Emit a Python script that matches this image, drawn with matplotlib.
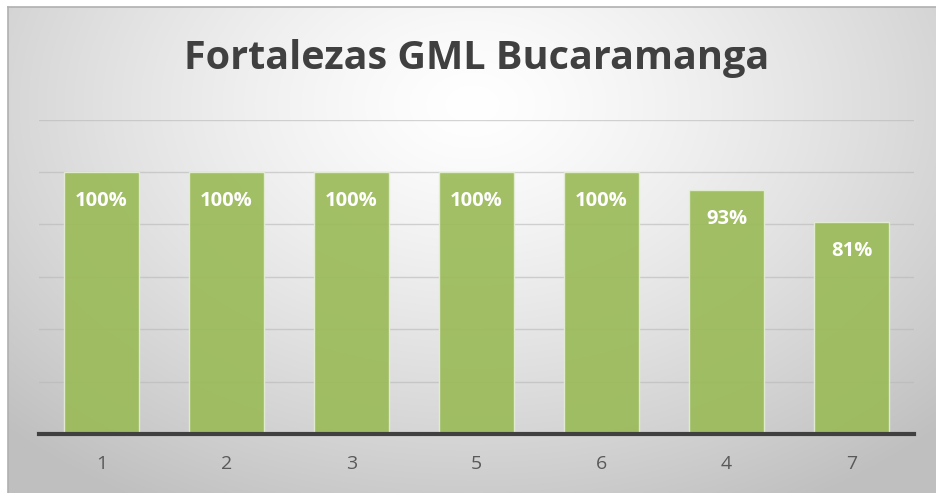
import matplotlib
matplotlib.use("Agg")
import matplotlib.pyplot as plt
import numpy as np

# chart data
categories = ["1", "2", "3", "5", "6", "4", "7"]
values = [100, 100, 100, 100, 100, 93, 81]
labels = ["100%", "100%", "100%", "100%", "100%", "93%", "81%"]
title = "Fortalezas GML Bucaramanga"

W, H = 937, 493
fig = plt.figure(figsize=(W / 100, H / 100), dpi=100)
fig.patch.set_facecolor("white")

# background panel with radial gradient (chart area from x=8, y=7)
bg = fig.add_axes([8 / W, 0, 1 - 8 / W, 1 - 7 / H])
bg.set_axis_off()
yy, xx = np.mgrid[0:1:300j, 0:1:600j]
r = np.sqrt(((xx - 0.5) / 0.75) ** 2 + ((yy - 0.2) / 1.0) ** 2)
r = np.clip(r / 0.95, 0, 1)
shade = 1.0 - 0.25 * r ** 1.3
img = np.dstack([shade, shade, shade])
bg.imshow(img, aspect="auto", extent=[0, 1, 1, 0], interpolation="bilinear")
bg.set_xlim(0, 1)
bg.set_ylim(1, 0)
# thin border lines top and left
fig.add_artist(plt.Line2D([8 / W, 1], [1 - 7 / H, 1 - 7 / H], color="#b0b0b0", lw=1.2))
fig.add_artist(plt.Line2D([8 / W, 8 / W], [0, 1 - 7 / H], color="#b0b0b0", lw=1.2))

# plot area
left, right = 39 / W, 914 / W
bottom, top = (H - 434) / H, (H - 119.5) / H
ax = fig.add_axes([left, bottom, right - left, top - bottom])
ax.patch.set_alpha(0)

x = np.arange(len(categories))
bars = ax.bar(x, values, width=0.6, color="#9bbb59", alpha=0.92,
              edgecolor="#e4eed4", linewidth=1.0, zorder=3)
for b, lab in zip(bars, labels):
    ax.text(b.get_x() + b.get_width() / 2, b.get_height() - 11, lab,
            ha="center", va="center", color="white", fontsize=14.5,
            fontweight="bold", family="Open Sans", zorder=4)

ax.set_xlim(-0.5, len(categories) - 0.5)
ax.set_ylim(0, 120)
ax.set_yticks([20, 40, 60, 80, 100, 120])
ax.yaxis.grid(True, color="#b8b8b8", lw=1.0, alpha=0.6, zorder=0)
ax.tick_params(axis="y", length=0, labelleft=False)
ax.set_xticks(x)
ax.set_xticklabels(categories, fontsize=14, color="#595959", family="Open Sans")
ax.tick_params(axis="x", length=0, pad=15)
for s in ["top", "right", "left"]:
    ax.spines[s].set_visible(False)
ax.spines["bottom"].set_color("#404040")
ax.spines["bottom"].set_linewidth(3)
ax.spines["bottom"].set_zorder(5)

fig.text(477 / W, 1 - 59 / H, title, ha="center", va="center",
         fontsize=28.5, fontweight="bold", color="#404040", family="Open Sans")

fig.savefig("out.png", dpi=100, facecolor=fig.get_facecolor())
